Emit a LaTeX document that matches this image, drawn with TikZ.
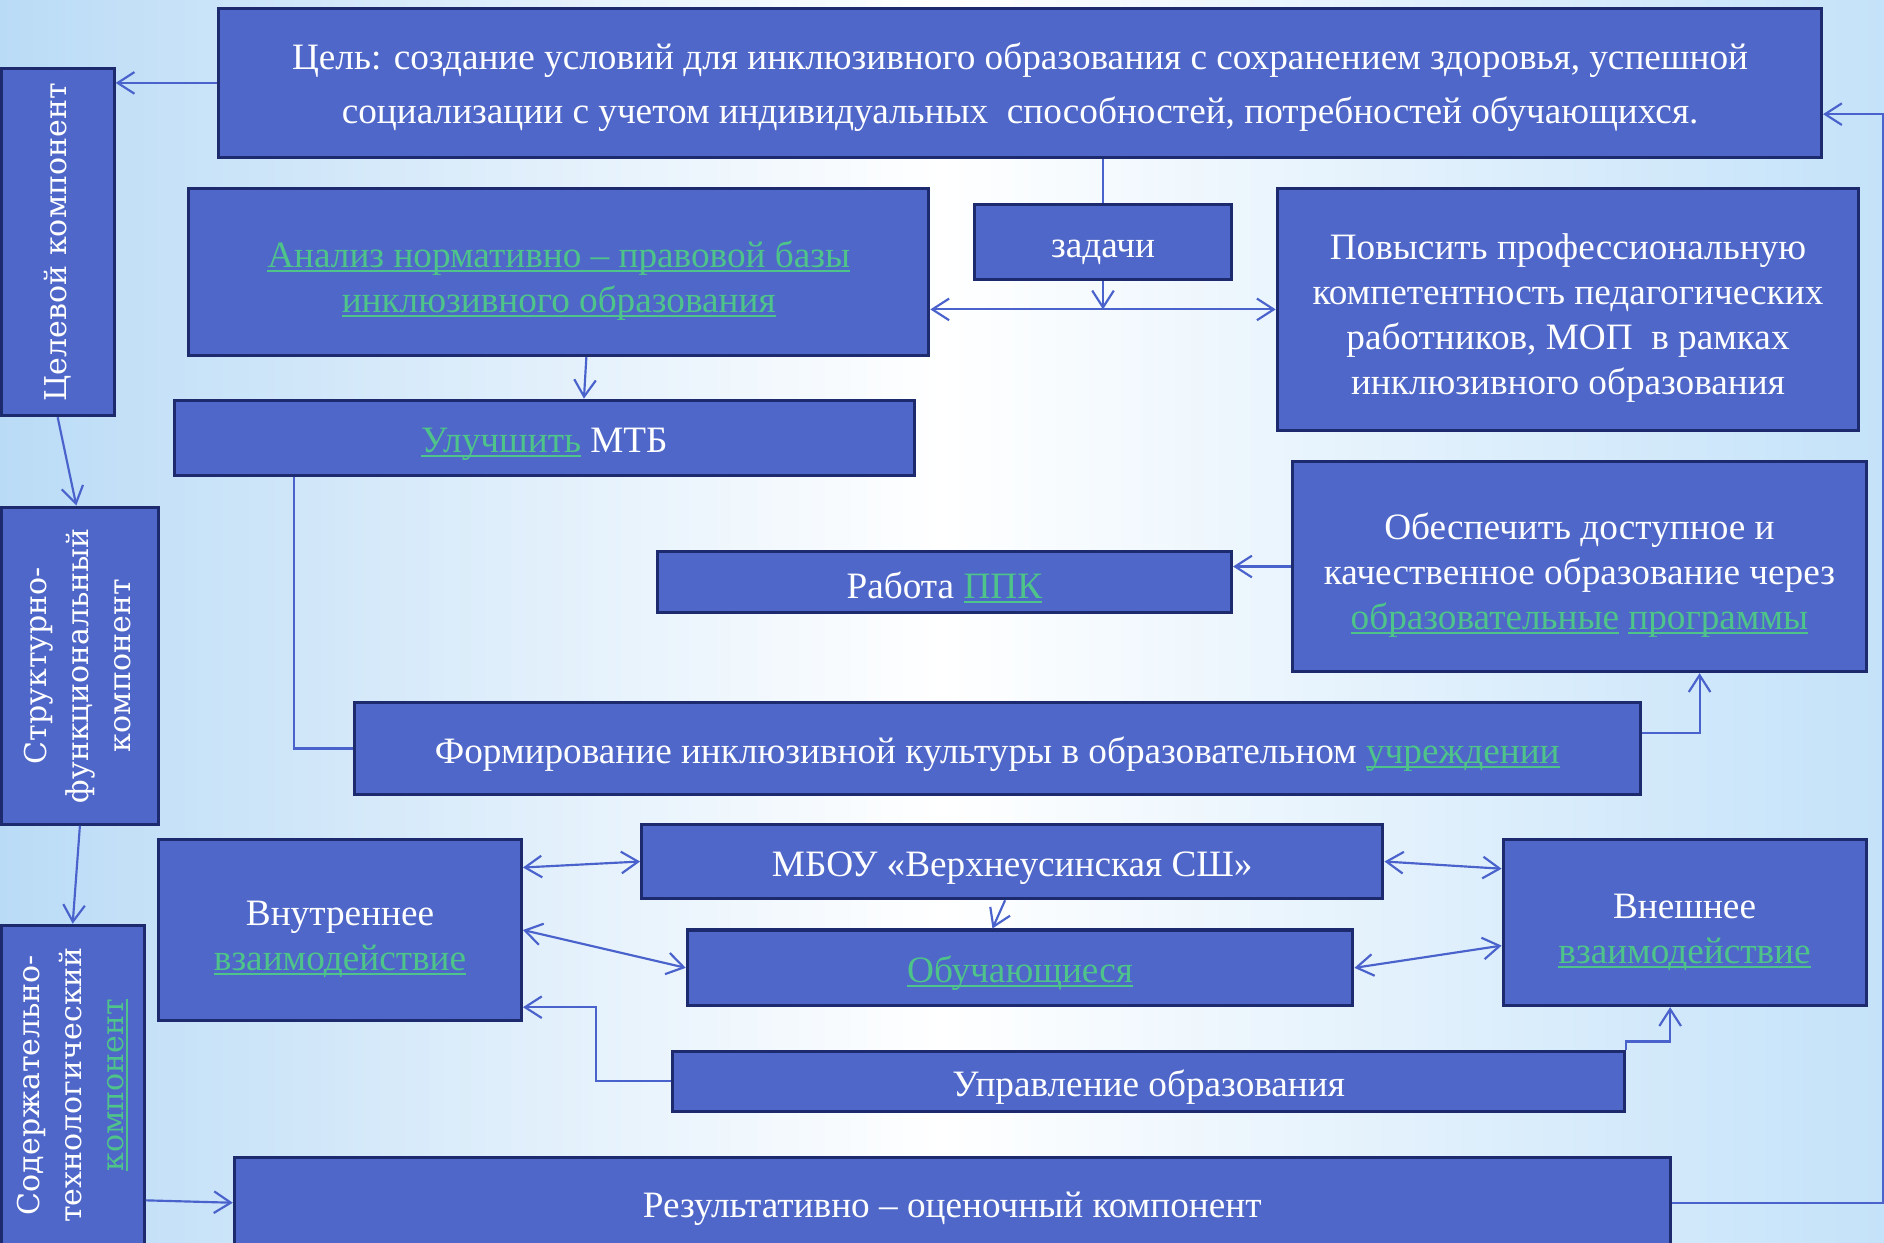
\documentclass[tikz,border=0pt]{standalone}
\usepackage{fontspec}
\setmainfont{Liberation Serif}
\newfontfamily\sidefont{DejaVu Serif}
\usetikzlibrary{arrows.meta}
\definecolor{boxblue}{RGB}{79,103,200}
\definecolor{boxedge}{RGB}{30,42,110}
\definecolor{linkgreen}{RGB}{78,196,138}
\definecolor{lineblue}{RGB}{74,98,204}
\definecolor{bgleft}{RGB}{186,219,246}
\definecolor{bgright}{RGB}{196,226,249}
\newsavebox{\lnkbox}
\newcommand{\lnk}[1]{\leavevmode\textcolor{linkgreen}{\sbox{\lnkbox}{#1}\rlap{\rule[-4pt]{\wd\lnkbox}{1.8pt}}\usebox{\lnkbox}}}
\newcommand{\lift}{\rule{0pt}{36pt}}
\newcommand{\sidetext}[1]{\rotatebox{90}{\begin{tabular}{@{}c@{}}#1\end{tabular}}}

\begin{document}
\begin{tikzpicture}[x=1pt, y=-1pt,
	block/.style={draw=boxedge, line width=2.5pt, fill=boxblue, text=white, align=center, inner sep=0pt,
	  font=\fontsize{31}{37.5}\selectfont, execute at begin node={\rule{0pt}{31pt}}},
	side/.style={block, font=\sidefont\fontsize{25}{35}\selectfont, execute at begin node={}},
	link/.style={draw=lineblue, line width=1.8pt},
	>={Straight Barb[length=14pt,width=18pt]}]
	\useasboundingbox (0,0) rectangle (1568,1034);
	\shade[left color=bgleft, right color=bgright, middle color=white] (0,0) rectangle (1568,1034);

	% goal and tasks
	\node[block, minimum width=1334, minimum height=124, font=\fontsize{31}{45}\selectfont] (goal) at (849,69)
	  {\rule{0pt}{30pt}Цель: создание условий для инклюзивного образования с сохранением здоровья, успешной\\
	   социализации с учетом индивидуальных~ способностей, потребностей обучающихся.};
	\node[block, minimum width=616, minimum height=139] (analysis) at (465,226.5)
	  {\lift\lnk{Анализ нормативно – правовой базы}\\ \lnk{инклюзивного образования}};
	\node[block, minimum width=214, minimum height=63] (tasks) at (918,201.5) {задачи};
	\node[block, minimum width=484, minimum height=201] (raise) at (1305,257.5)
	  {\lift Повысить профессиональную\\ компетентность педагогических\\ работников, МОП~ в рамках\\ инклюзивного образования};
	\node[block, minimum width=616, minimum height=63] (improve) at (453,364.5) {\lnk{Улучшить} МТБ};
	\node[block, minimum width=477, minimum height=175] (ensure) at (1314.5,471.5)
	  {\lift Обеспечить доступное и\\ качественное образование через\\ \lnk{образовательные} \lnk{программы}};
	\node[block, minimum width=478, minimum height=51] (ppk) at (786,484.5) {Работа \lnk{ППК}};
	\node[block, minimum width=1070, minimum height=76] (culture) at (830,623)
	  {Формирование инклюзивной культуры в образовательном \lnk{учреждении}};

	% interaction
	\node[block, minimum width=617, minimum height=62] (school) at (842.5,717) {МБОУ «Верхнеусинская СШ»};
	\node[block, minimum width=302, minimum height=150] (inner) at (283,774) {\lift Внутреннее\\ \lnk{взаимодействие}};
	\node[block, minimum width=302, minimum height=138] (outer) at (1402,768) {\lift Внешнее\\ \lnk{взаимодействие}};
	\node[block, minimum width=554, minimum height=63] (students) at (849,805.5) {\lnk{Обучающиеся}};
	\node[block, minimum width=792, minimum height=50] (admin) at (956,900) {Управление образования};
	\node[block, minimum width=1195, minimum height=76] (result) at (792.5,1001) {Результативно – оценочный компонент};

	% components on the left
	\node[side, minimum width=94, minimum height=289] (target) at (48,201.5) {\sidetext{Целевой компонент}};
	\node[side, minimum width=131, minimum height=264] (struct) at (66.5,554) {\sidetext{Структурно-\\ функциональный\\ компонент}};
	\node[side, minimum width=119, minimum height=266] (content) at (60.5,903) {\sidetext{Содержательно-\\ технологический\\ \lnk{компонент}}};

	% connectors
	\draw[link,->] (goal.west) -- (goal.west -| target.east);
	\draw[link] (tasks.north) -- (tasks.north |- goal.south);
	\draw[link,->] (tasks.south) -- (tasks.south |- raise.west);
	\draw[link,<->] (raise.west -| analysis.east) -- (raise.west);
	\draw[link,->] ([xshift=23]analysis.south) -- ([xshift=33]improve.north);
	\draw[link] ([xshift=-208]improve.south) |- (culture.west);
	\draw[link,->] (ensure.west) -- (ensure.west -| ppk.east);
	\draw[link,->] ([yshift=13]culture.east) -| ([xshift=100]ensure.south);
	\draw[link,->] (result.east) -- ++(176,0) |- ([yshift=-26]goal.east);
	\draw[link,->] (target.south) -- ([xshift=-3]struct.north);
	\draw[link,->] (struct.south) -- (content.north);
	\draw[link,->] ([yshift=-96]content.east) -- (result.west);
	\draw[link,<->] ([yshift=52]inner.east) -- (school.west);
	\draw[link,<->] (school.east) -- ([yshift=45]outer.west);
	\draw[link,->] ([xshift=-6]school.south) -- ([xshift=-23]students.north);
	\draw[link,<->] (inner.east) -- (students.west);
	\draw[link,<->] (students.east) -- ([yshift=-19]outer.west);
	\draw[link,->] (admin.west) -- ++(-63,0) |- ([yshift=12]inner.south east);
	\draw[link,->] (admin.north east) -- ++(0,-7) -| ([xshift=-12]outer.south);
\end{tikzpicture}
\end{document}
